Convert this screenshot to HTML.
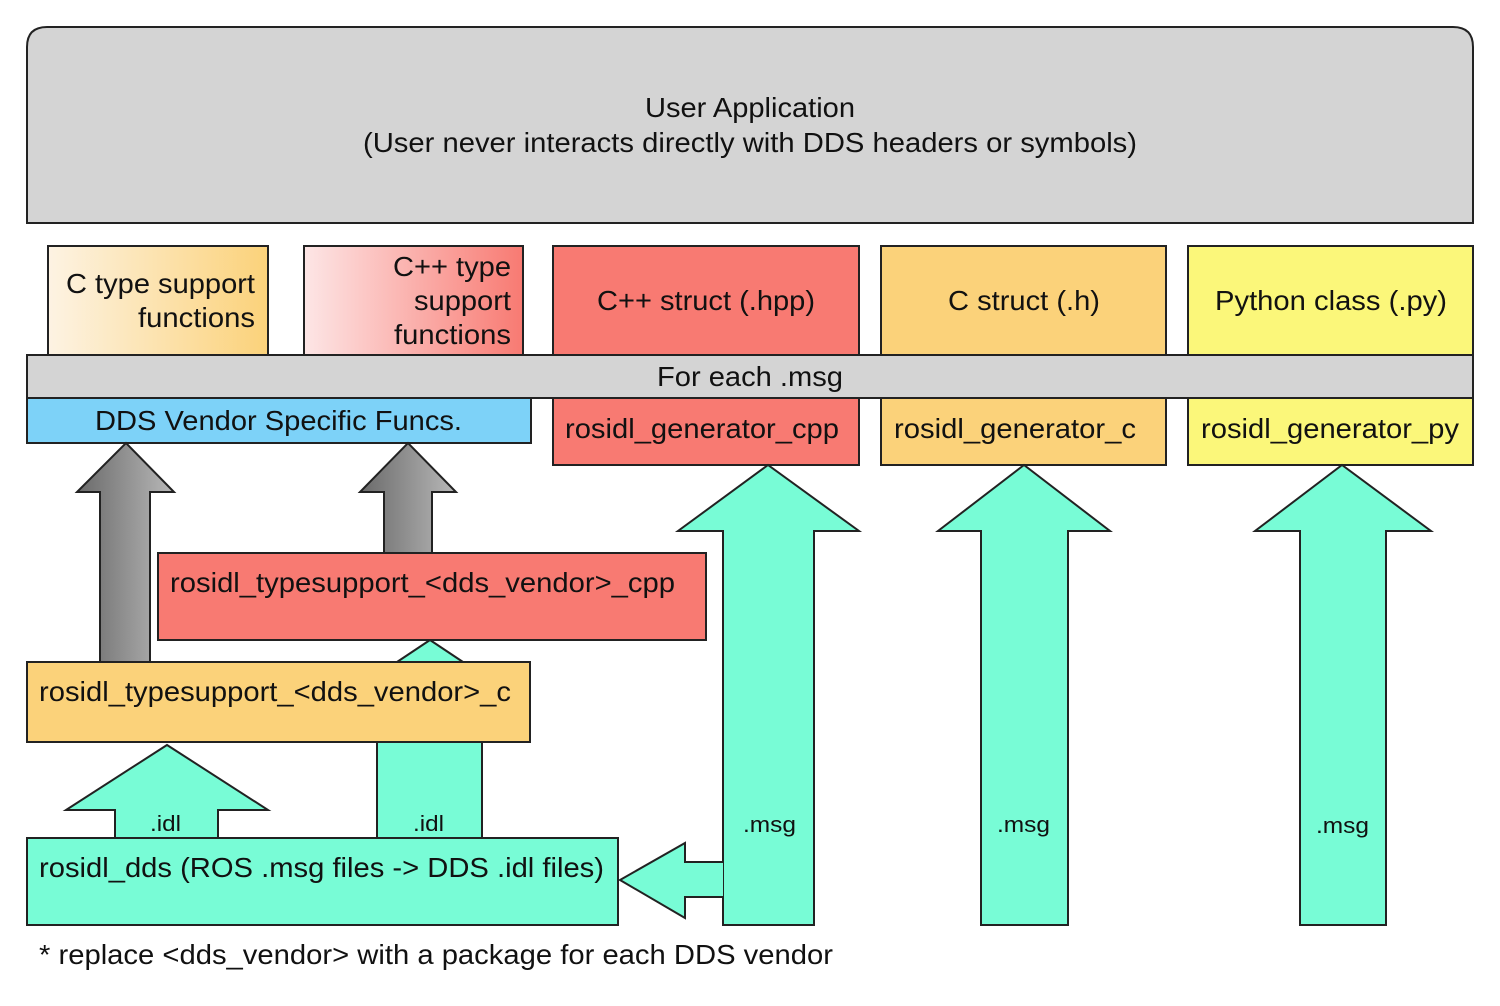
<!DOCTYPE html>
<html><head><meta charset="utf-8"><style>
html,body{margin:0;padding:0;background:#fff;}
svg{display:block;}
text{font-family:"Liberation Sans",Arial,sans-serif;fill:#111;}
</style></head><body>
<svg width="1500" height="1006" viewBox="0 0 1500 1006" xmlns="http://www.w3.org/2000/svg">
<defs>
<linearGradient id="gC" x1="0" x2="1" y1="0" y2="0"><stop offset="0" stop-color="#fdf3e3"/><stop offset="1" stop-color="#fbd27a"/></linearGradient>
<linearGradient id="gCpp" x1="0" x2="1" y1="0" y2="0"><stop offset="0" stop-color="#fde6e6"/><stop offset="1" stop-color="#f87a72"/></linearGradient>
<linearGradient id="gG" x1="0" x2="1" y1="0" y2="0"><stop offset="0" stop-color="#6a6a6a"/><stop offset="1" stop-color="#b8b8b8"/></linearGradient>
</defs>
<g stroke="#222" stroke-width="2">
<path d="M27,223 L27,47 Q27,27 47,27 L1453,27 Q1473,27 1473,47 L1473,223 Z" fill="#d4d4d4"/>
<rect x="48" y="246" width="220" height="109" fill="url(#gC)"/>
<rect x="304" y="246" width="219" height="109" fill="url(#gCpp)"/>
<rect x="553" y="246" width="306" height="109" fill="#f87a72"/>
<rect x="881" y="246" width="285" height="109" fill="#fbd27a"/>
<rect x="1188" y="246" width="285" height="109" fill="#fbf77a"/>
<rect x="553" y="398" width="306" height="67" fill="#f87a72"/>
<rect x="881" y="398" width="285" height="67" fill="#fbd27a"/>
<rect x="1188" y="398" width="285" height="67" fill="#fbf77a"/>
<rect x="27" y="355" width="1446" height="43" fill="#d4d4d4"/>
<rect x="27" y="398" width="504" height="45" fill="#7dd2f8"/>
<path d="M100,662 L100,492 L77,492 L126,443 L174,492 L150,492 L150,662" fill="url(#gG)"/>
<path d="M384,553 L384,492 L360,492 L408,443 L456,492 L432,492 L432,553" fill="url(#gG)"/>
<path d="M397,662 L430,640 L463,662" fill="#78fcd6"/>
<rect x="158" y="553" width="548" height="87" fill="#f87a72"/>
<rect x="27" y="662" width="503" height="80" fill="#fbd27a"/>
<path d="M115,838 L115,810 L66,810 L167,745 L268,810 L218,810 L218,838" fill="#78fcd6"/>
<path d="M377,838 L377,742 L482,742 L482,838" fill="#78fcd6"/>
<path d="M723,925 L723,531 L678,531 L768,465 L859,531 L814,531 L814,925 Z" fill="#78fcd6"/>
<path d="M981,925 L981,531 L938,531 L1024,465 L1110,531 L1068,531 L1068,925 Z" fill="#78fcd6"/>
<path d="M1300,925 L1300,531 L1255,531 L1342,465 L1431,531 L1386,531 L1386,925 Z" fill="#78fcd6"/>
<path d="M723,862 L685,862 L685,843 L620,880 L685,918 L685,897 L723,897" fill="#78fcd6"/>
<rect x="27" y="838" width="591" height="87" fill="#78fcd6"/>
</g>
<g font-size="28">
<text x="645" y="117" textLength="210" lengthAdjust="spacingAndGlyphs">User Application</text>
<text x="363" y="152" textLength="774" lengthAdjust="spacingAndGlyphs">(User never interacts directly with DDS headers or symbols)</text>
<text x="66" y="293" textLength="189" lengthAdjust="spacingAndGlyphs">C type support</text>
<text x="138" y="327" textLength="117" lengthAdjust="spacingAndGlyphs">functions</text>
<text x="393" y="276" textLength="118" lengthAdjust="spacingAndGlyphs">C++ type</text>
<text x="414" y="310" textLength="97" lengthAdjust="spacingAndGlyphs">support</text>
<text x="394" y="344" textLength="117" lengthAdjust="spacingAndGlyphs">functions</text>
<text x="597" y="310" textLength="218" lengthAdjust="spacingAndGlyphs">C++ struct (.hpp)</text>
<text x="948" y="310" textLength="152" lengthAdjust="spacingAndGlyphs">C struct (.h)</text>
<text x="1215" y="310" textLength="232" lengthAdjust="spacingAndGlyphs">Python class (.py)</text>
<text x="657" y="386" textLength="186" lengthAdjust="spacingAndGlyphs">For each .msg</text>
<text x="95" y="430" textLength="367" lengthAdjust="spacingAndGlyphs">DDS Vendor Specific Funcs.</text>
<text x="565" y="438" textLength="274" lengthAdjust="spacingAndGlyphs">rosidl_generator_cpp</text>
<text x="894" y="438" textLength="242" lengthAdjust="spacingAndGlyphs">rosidl_generator_c</text>
<text x="1201" y="438" textLength="258" lengthAdjust="spacingAndGlyphs">rosidl_generator_py</text>
<text x="170" y="592" textLength="505" lengthAdjust="spacingAndGlyphs">rosidl_typesupport_&lt;dds_vendor&gt;_cpp</text>
<text x="39" y="701" textLength="472" lengthAdjust="spacingAndGlyphs">rosidl_typesupport_&lt;dds_vendor&gt;_c</text>
<text x="39" y="877" textLength="565" lengthAdjust="spacingAndGlyphs">rosidl_dds (ROS .msg files -&gt; DDS .idl files)</text>
<text x="39" y="964" textLength="794" lengthAdjust="spacingAndGlyphs">* replace &lt;dds_vendor&gt; with a package for each DDS vendor</text>
</g>
<g font-size="22">
<text x="150" y="831" textLength="31" lengthAdjust="spacingAndGlyphs">.idl</text>
<text x="413" y="831" textLength="31" lengthAdjust="spacingAndGlyphs">.idl</text>
<text x="743" y="832" textLength="53" lengthAdjust="spacingAndGlyphs">.msg</text>
<text x="997" y="832" textLength="53" lengthAdjust="spacingAndGlyphs">.msg</text>
<text x="1316" y="833" textLength="53" lengthAdjust="spacingAndGlyphs">.msg</text>
</g>
</svg>
</body></html>
